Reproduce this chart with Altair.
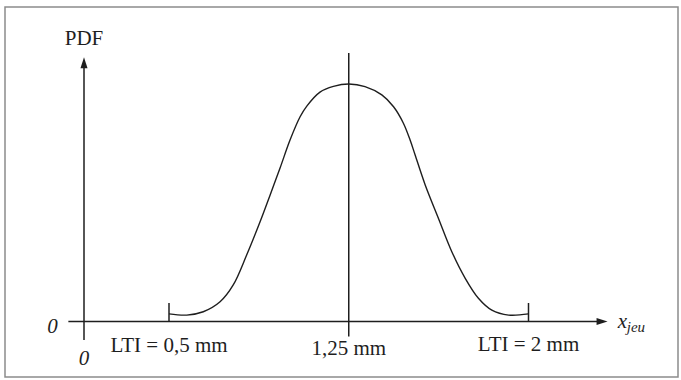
import altair as alt
import pandas as pd

# ---- data ----
# PDF curve (x in mm, PDF normalised so that the peak = 1)
curve_x = [0.500, 0.574, 0.643, 0.713, 0.768, 0.824, 0.880, 0.922, 0.963, 1.005,
           1.047, 1.075, 1.130, 1.186, 1.250, 1.318, 1.388, 1.437, 1.478, 1.506,
           1.527, 1.569, 1.624, 1.680, 1.736, 1.791, 1.847, 1.917, 2.000]
curve_y = [0.032, 0.027, 0.041, 0.083, 0.154, 0.280, 0.420, 0.533, 0.645, 0.764,
           0.862, 0.907, 0.966, 0.990, 1.000, 0.989, 0.954, 0.904, 0.835, 0.764,
           0.701, 0.575, 0.435, 0.294, 0.182, 0.098, 0.048, 0.027, 0.032]

# schematic lines: axes, LTI limit ticks, mean line (x, x2, y, y2)
seg_name = ["y_axis", "x_axis", "lti_low", "lti_high", "mean"]
seg_x = [0.0, -0.092, 0.5, 2.0, 1.25]
seg_x2 = [0.0, 2.307, 0.5, 2.0, 1.25]
seg_y = [-0.078, 0.0, 0.0, 0.0, -0.063]
seg_y2 = [1.089, 0.0, 0.078, 0.078, 1.131]

# arrow heads
arrow_x = [0.0, 2.307]
arrow_y = [1.089, 0.0]
arrow_shape = ["M0,-1L0.64,1L-0.64,1Z", "M1,0L-1,0.64L-1,-0.64Z"]

# labels
lab_text = ["PDF", "LTI = 0,5 mm", "1,25 mm", "LTI = 2 mm"]
lab_x = [0.0, 0.5, 1.25, 2.0]
lab_y = [1.164, -0.127, -0.141, -0.123]

zero_text = ["0", "0"]
zero_x = [-0.185, 0.0]
zero_y = [-0.048, -0.183]

xvar_text = ["x"]
xvar_x = [2.372]
xvar_y = [-0.029]
sub_text = ["jeu"]
sub_x = [2.41]
sub_y = [-0.044]

# ---- scales (schematic, piecewise x) ----
xs = alt.Scale(domain=[0.0, 0.5, 2.0], range=[79, 164, 523.5], zero=False, nice=False)
ys = alt.Scale(domain=[0.0, 1.0], range=[314.5, 77], zero=False, nice=False)
INK = "#1e1e1e"
FONT = "Liberation Serif"

curve_df = pd.DataFrame({"x": curve_x, "y": curve_y})
seg_df = pd.DataFrame({"name": seg_name, "x": seg_x, "x2": seg_x2, "y": seg_y, "y2": seg_y2})
arrow_df = pd.DataFrame({"x": arrow_x, "y": arrow_y, "shape": arrow_shape})
lab_df = pd.DataFrame({"t": lab_text, "x": lab_x, "y": lab_y})
zero_df = pd.DataFrame({"t": zero_text, "x": zero_x, "y": zero_y})
xvar_df = pd.DataFrame({"t": xvar_text, "x": xvar_x, "y": xvar_y})
sub_df = pd.DataFrame({"t": sub_text, "x": sub_x, "y": sub_y})

curve = alt.Chart(curve_df).mark_line(color=INK, strokeWidth=1.4, interpolate="catmull-rom").encode(
    x=alt.X("x:Q", scale=xs, axis=None),
    y=alt.Y("y:Q", scale=ys, axis=None),
)

segs = alt.Chart(seg_df).mark_rule(color=INK, strokeWidth=1.5).encode(
    x=alt.X("x:Q", scale=xs, axis=None),
    x2="x2:Q",
    y=alt.Y("y:Q", scale=ys, axis=None),
    y2="y2:Q",
)

arrows = alt.Chart(arrow_df).mark_point(filled=True, color=INK, opacity=1, size=121, strokeWidth=0).encode(
    x=alt.X("x:Q", scale=xs, axis=None),
    y=alt.Y("y:Q", scale=ys, axis=None),
    shape=alt.Shape("shape:N", scale=None, legend=None),
)

labels = alt.Chart(lab_df).mark_text(font=FONT, fontSize=21, color=INK, align="center", baseline="alphabetic").encode(
    x=alt.X("x:Q", scale=xs, axis=None),
    y=alt.Y("y:Q", scale=ys, axis=None),
    text="t:N",
)

zeros = alt.Chart(zero_df).mark_text(font=FONT, fontSize=21, fontStyle="italic", color=INK,
                                     align="center", baseline="alphabetic").encode(
    x=alt.X("x:Q", scale=xs, axis=None),
    y=alt.Y("y:Q", scale=ys, axis=None),
    text="t:N",
)

xvar = alt.Chart(xvar_df).mark_text(font=FONT, fontSize=21, fontStyle="italic", color=INK,
                                    align="left", baseline="alphabetic").encode(
    x=alt.X("x:Q", scale=xs, axis=None),
    y=alt.Y("y:Q", scale=ys, axis=None),
    text="t:N",
)

sub = alt.Chart(sub_df).mark_text(font=FONT, fontSize=15, fontStyle="italic", color=INK,
                                  align="left", baseline="alphabetic").encode(
    x=alt.X("x:Q", scale=xs, axis=None),
    y=alt.Y("y:Q", scale=ys, axis=None),
    text="t:N",
)

chart = alt.layer(segs, curve, arrows, labels, zeros, xvar, sub).properties(
    width=673,
    height=370,
    padding={"left": 5, "top": 7, "right": 3, "bottom": 3},
    autosize="none",
    background="white",
).configure_view(stroke="#8c8c8c", strokeWidth=1.5)

chart.save("out.html", embed_options={"renderer": "svg", "actions": False})
